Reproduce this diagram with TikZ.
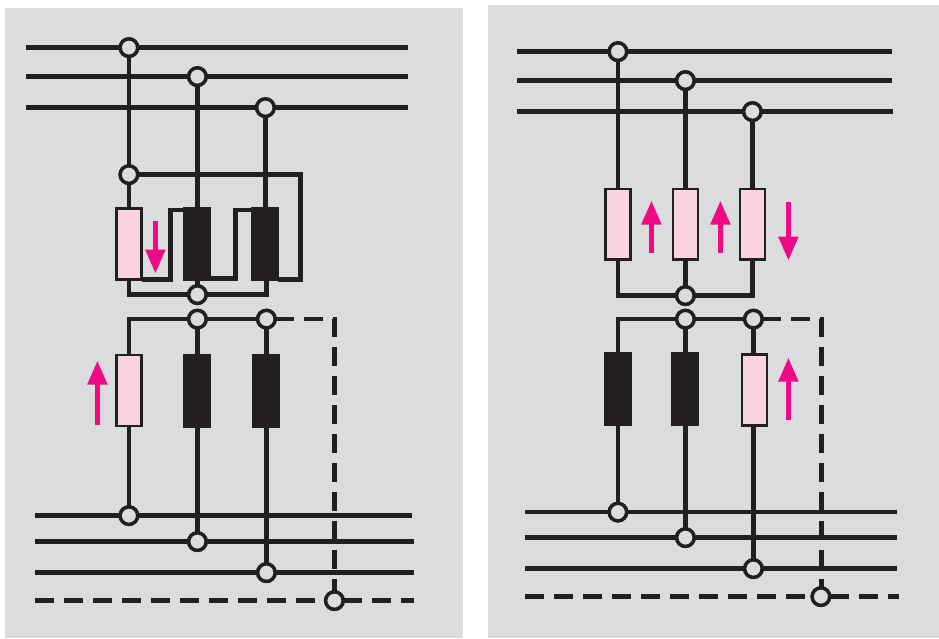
\documentclass[tikz,border=0pt]{standalone}
\usetikzlibrary{arrows.meta}
\definecolor{panelgrey}{HTML}{DBDCDE}
\definecolor{wirecol}{HTML}{231F20}
\definecolor{pinkfill}{HTML}{F9D3DF}
\definecolor{magentacol}{HTML}{EE0A85}
\tikzset{
  panel/.style={fill=panelgrey,draw=none},
  wire/.style={draw=wirecol,line width=4.6pt,line cap=butt,line join=miter},
  dashwire/.style={wire,dash pattern=on 19pt off 10pt},
  dotnode/.style={circle,draw=wirecol,fill=panelgrey,line width=3.4pt,minimum size=17.5pt,inner sep=0pt,outer sep=0pt},
  pinkbox/.style={rectangle,draw=wirecol,fill=pinkfill,line width=2.4pt,minimum width=24.8pt,minimum height=71pt,inner sep=0pt,outer sep=0pt},
  blackbox/.style={rectangle,draw=wirecol,fill=wirecol,line width=1pt,minimum width=27pt,minimum height=73pt,inner sep=0pt,outer sep=0pt},
  flow/.style={draw=magentacol,line width=5pt,-{Triangle[width=19pt,length=24pt,fill=magentacol]}}
}
\begin{document}
\begin{tikzpicture}[x=1pt,y=-1pt]
\useasboundingbox (0,0) rectangle (939,638);
\fill[panel] (5,8) rectangle (463,638);
\fill[panel] (488,5) rectangle (939,638);
\begin{scope}[xshift=0.4pt,yshift=-0.6pt]
% ---------- left panel ----------
\node[dotnode] (la1) at (128.5,47) {};
\node[dotnode] (la2) at (197,76) {};
\node[dotnode] (la3) at (265,107) {};
\node[dotnode] (lb) at (128.5,174) {};
\node[dotnode] (lc) at (197,294) {};
\node[dotnode] (ld2) at (197,318.5) {};
\node[dotnode] (ld3) at (266,318.5) {};
\node[dotnode] (le1) at (128.5,515) {};
\node[dotnode] (le2) at (197,541) {};
\node[dotnode] (le3) at (266,572) {};
\node[dotnode] (le4) at (334,600) {};
\node[pinkbox] (lp1) at (128.5,243.5) {};
\node[blackbox] (lk2) at (197,243.5) {};
\node[blackbox] (lk3) at (265,243.5) {};
\node[pinkbox] (lq1) at (128.5,390) {};
\node[blackbox] (lr2) at (197,390.5) {};
\node[blackbox] (lr3) at (266,390.5) {};

\coordinate (lw1) at (26,47);  \coordinate (lx1) at (408,47);
\coordinate (lw2) at (26,76);  \coordinate (lx2) at (408,76);
\coordinate (lw3) at (26,107); \coordinate (lx3) at (408,107);
\coordinate (lw4) at (35,515); \coordinate (lx4) at (412,515);
\coordinate (lw5) at (35,541); \coordinate (lx5) at (414,541);
\coordinate (lw6) at (35,572); \coordinate (lx6) at (414,572);
\coordinate (lw7) at (35,600); \coordinate (lx7) at (414,600);

\draw[wire] (lw1) -- (la1) -- (lx1);
\draw[wire] (lw2) -- (la2) -- (lx2);
\draw[wire] (lw3) -- (la3) -- (lx3);
\draw[wire] (lw4) -- (le1) -- (lx4);
\draw[wire] (lw5) -- (le2) -- (lx5);
\draw[wire] (lw6) -- (le3) -- (lx6);
\draw[dashwire] (lw7) -- (le4);
\draw[dashwire] (le4) -- (lx7);
\draw[wire] (la1) -- (lb);
\draw[wire] (lb) -- (lp1);
\draw[wire] (la2) -- (lk2);
\draw[wire] (la3) -- (lk3);
\draw[wire] (lk2) -- (lc);
\draw[wire] (ld2) -- (lr2);
\draw[wire] (lr2) -- (le2);
\draw[wire] (ld3) -- (lr3);
\draw[wire] (lr3) -- (le3);
\draw[wire] (lq1) -- (le1);
% delta loop
\draw[wire] (lb) -- (300,174) -- (300,279) -- (278,279);
\draw[wire] (142,279) -- (170,279) -- (170,209.5) -- (184,209.5);
\draw[wire] (211,278) -- (235,278) -- (235,209.5) -- (251,209.5);
% star point
\draw[wire] (128.5,279) -- (128.5,294) -- (lc);
\draw[wire] (lc) -- (266,294) -- (266,279);
% lower star
\draw[wire] (128.5,355) -- (128.5,318.5) -- (ld2);
\draw[wire] (ld2) -- (ld3);
\draw[dashwire] (ld3) -- (334,318.5) -- (334,590);
\foreach \n in {la1,la2,la3,lb,lc,ld2,ld3,le1,le2,le3,le4} {\node[dotnode] at (\n) {};}
\node[pinkbox] at (lp1) {};
\node[blackbox] at (lk2) {};
\node[blackbox] at (lk3) {};
\node[pinkbox] at (lq1) {};
\coordinate (lf1s) at (155,220); \coordinate (lf1e) at (155,273);
\coordinate (lf2s) at (97,424);  \coordinate (lf2e) at (97,360);
\draw[flow] (lf1s) -- (lf1e);
\draw[flow] (lf2s) -- (lf2e);

% ---------- right panel ----------
\node[dotnode] (ra1) at (617.5,51) {};
\node[dotnode] (ra2) at (685,80) {};
\node[dotnode] (ra3) at (752,111) {};
\node[dotnode] (rc) at (685,295) {};
\node[dotnode] (rd2) at (685,318.5) {};
\node[dotnode] (rd3) at (753,318.5) {};
\node[dotnode] (re1) at (617.5,511.5) {};
\node[dotnode] (re2) at (685,537) {};
\node[dotnode] (re3) at (753,568) {};
\node[dotnode] (re4) at (820.5,596) {};
\node[pinkbox,minimum width=25pt,minimum height=70.6pt] (rp1) at (617.5,223.5) {};
\node[pinkbox,minimum width=25pt,minimum height=70.6pt] (rp2) at (685,223.5) {};
\node[pinkbox,minimum width=25pt,minimum height=70.6pt] (rp3) at (752,223.5) {};
\node[blackbox] (rr1) at (617.5,388.5) {};
\node[blackbox] (rr2) at (685,388.5) {};
\node[pinkbox] (rq3) at (754,389.5) {};

\coordinate (rw1) at (517,51);  \coordinate (rx1) at (892,51);
\coordinate (rw2) at (517,80);  \coordinate (rx2) at (892,80);
\coordinate (rw3) at (517,111); \coordinate (rx3) at (893,111);
\coordinate (rw4) at (525,511.5); \coordinate (rx4) at (897,511.5);
\coordinate (rw5) at (525,537); \coordinate (rx5) at (897,537);
\coordinate (rw6) at (525,568); \coordinate (rx6) at (897,568);
\coordinate (rw7) at (525,596); \coordinate (rx7) at (899,596);

\draw[wire] (rw1) -- (ra1) -- (rx1);
\draw[wire] (rw2) -- (ra2) -- (rx2);
\draw[wire] (rw3) -- (ra3) -- (rx3);
\draw[wire] (rw4) -- (re1) -- (rx4);
\draw[wire] (rw5) -- (re2) -- (rx5);
\draw[wire] (rw6) -- (re3) -- (rx6);
\draw[dashwire] (rw7) -- (re4);
\draw[dashwire] (re4) -- (rx7);
\draw[wire] (ra1) -- (rp1);
\draw[wire] (ra2) -- (rp2);
\draw[wire] (ra3) -- (rp3);
\draw[wire] (rp2) -- (rc);
\draw[wire] (rp1) -- (617.5,295) -- (rc);
\draw[wire] (rc) -- (752,295) -- (rp3);
\draw[wire] (rr1) -- (617.5,318.5) -- (rd2);
\draw[wire] (rd2) -- (rd3);
\draw[dashwire] (rd3) -- (821,318.5) -- (821,586);
\draw[wire] (rr1) -- (re1);
\draw[wire] (rd2) -- (rr2);
\draw[wire] (rr2) -- (re2);
\draw[wire] (rd3) -- (753,355);
\draw[wire] (753,424) -- (re3);
\foreach \n in {ra1,ra2,ra3,rc,rd2,rd3,re1,re2,re3,re4} {\node[dotnode] at (\n) {};}
\node[pinkbox] at (rq3) {};
\coordinate (rf1s) at (651,252); \coordinate (rf1e) at (651,200);
\coordinate (rf2s) at (720,252); \coordinate (rf2e) at (720,200);
\coordinate (rf3s) at (788,201); \coordinate (rf3e) at (788,260);
\coordinate (rf4s) at (788,419); \coordinate (rf4e) at (788,357);
\draw[flow] (rf1s) -- (rf1e);
\draw[flow] (rf2s) -- (rf2e);
\draw[flow] (rf3s) -- (rf3e);
\draw[flow] (rf4s) -- (rf4e);
\end{scope}
\end{tikzpicture}
\end{document}
